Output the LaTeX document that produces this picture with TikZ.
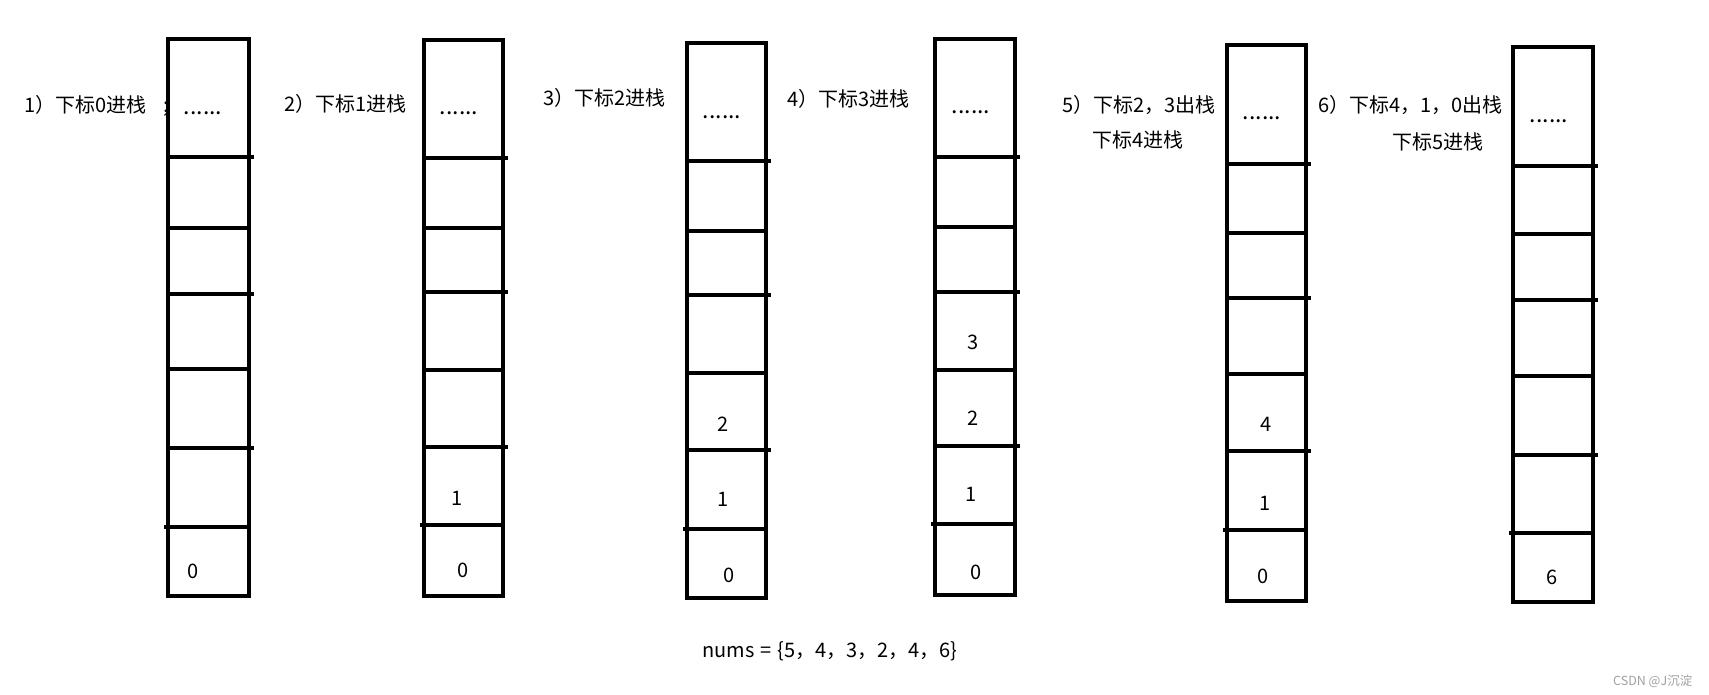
\documentclass[tikz,border=0pt]{standalone}
\usepackage{fontspec}
\setmainfont{Noto Sans CJK SC}
\definecolor{wm}{RGB}{160,160,160}
\tikzset{
  stackbox/.style={draw=black, line width=4.2pt, fill=white, inner sep=0pt, outer sep=0pt, rectangle},
  divider/.style={line width=4.2pt, black},
  lbl/.style={font=\fontsize{20}{24}\selectfont, inner sep=0pt, anchor=base west},
  cellnum/.style={font=\fontsize{20}{24}\selectfont, inner sep=0pt, anchor=base},
  celldots/.style={font=\fontsize{23}{26}\selectfont, inner sep=0pt, anchor=base},
  wmark/.style={font=\fontsize{12.5}{15}\selectfont, inner sep=0pt, anchor=base west, text=wm},
}
% #1 name, #2 left, #3 right, #4 top, #5 bottom, #6 divider list
\newcommand{\stk}[6]{%
  \node[stackbox, minimum width={#3-#2}, minimum height={#5-#4}] (#1) at ({(#2+#3)/2},{(#4+#5)/2}) {};
  \foreach \d [count=\i] in {#6} {
    \pgfmathsetmacro{\xa}{\i==6 ? #2-4 : #2}
    \pgfmathsetmacro{\xb}{(\i==1 || \i==3 || \i==5) ? #3+5 : #3}
    \draw[divider] (\xa,\d) -- (\xb,\d);
  }
}
\begin{document}
\begin{tikzpicture}[x=1pt,y=-1pt]
\useasboundingbox (0,0) rectangle (1709,694);
\fill[white] (0,0) rectangle (1709,694);

% step labels
\node[lbl] (l1) at (24,112.5) {1）下标0进栈};
\node[lbl] (semi) at (163.5,112.5) {;};
\node[lbl] (l2) at (284,111) {2）下标1进栈};
\node[lbl] (l3) at (543,105.5) {3）下标2进栈};
\node[lbl] (l4) at (787,106.5) {4）下标3进栈};
\node[lbl] (l5a) at (1062,112.5) {5）下标2，3出栈};
\node[lbl] (l5b) at (1092,147.5) {下标4进栈};
\node[lbl] (l6a) at (1318,112.5) {6）下标4，1，0出栈};
\node[lbl] (l6b) at (1392,149.5) {下标5进栈};

% stacks
\stk{s1}{168}{249}{39}{596}{157,228,294,369,448,527}
\stk{s2}{424}{503}{40}{596}{158,228,292,370,447,525}
\stk{s3}{687}{766}{43}{598}{161,231,295,373,450,529}
\stk{s4}{935}{1015}{39}{595}{157,227,292,370,446,524}
\stk{s5}{1227}{1306}{45}{601}{164,233,298,374,451,530}
\stk{s6}{1513}{1593}{47}{602}{166,234,300,376,455,533}

% dots in top cells
\node[celldots] (d1) at (203,114) {......};
\node[celldots] (d2) at (459,114) {......};
\node[celldots] (d3) at (722,118) {......};
\node[celldots] (d4) at (971,113) {......};
\node[celldots] (d5) at (1262,119) {......};
\node[celldots] (d6) at (1549,122) {......};

% cell values
\node[cellnum] (s1c0) at (193,578) {0};
\node[cellnum] (s2c1) at (457,505) {1};
\node[cellnum] (s2c0) at (463,577) {0};
\node[cellnum] (s3c2) at (723,431) {2};
\node[cellnum] (s3c1) at (723,506) {1};
\node[cellnum] (s3c0) at (729,582) {0};
\node[cellnum] (s4c3) at (973,349) {3};
\node[cellnum] (s4c2) at (973,425) {2};
\node[cellnum] (s4c1) at (971,501) {1};
\node[cellnum] (s4c0) at (976,579) {0};
\node[cellnum] (s5c4) at (1266,431) {4};
\node[cellnum] (s5c1) at (1265,510) {1};
\node[cellnum] (s5c0) at (1263,583) {0};
\node[cellnum] (s6c6) at (1552,584) {6};

% array
\node[lbl] (nums) at (702,657) {nums\hspace{0.3em}=\hspace{0.3em}\{5，4，3，2，4，6\}};

% watermark
\node[wmark] (wmk) at (1613,685) {CSDN @J沉淀};
\end{tikzpicture}
\end{document}
